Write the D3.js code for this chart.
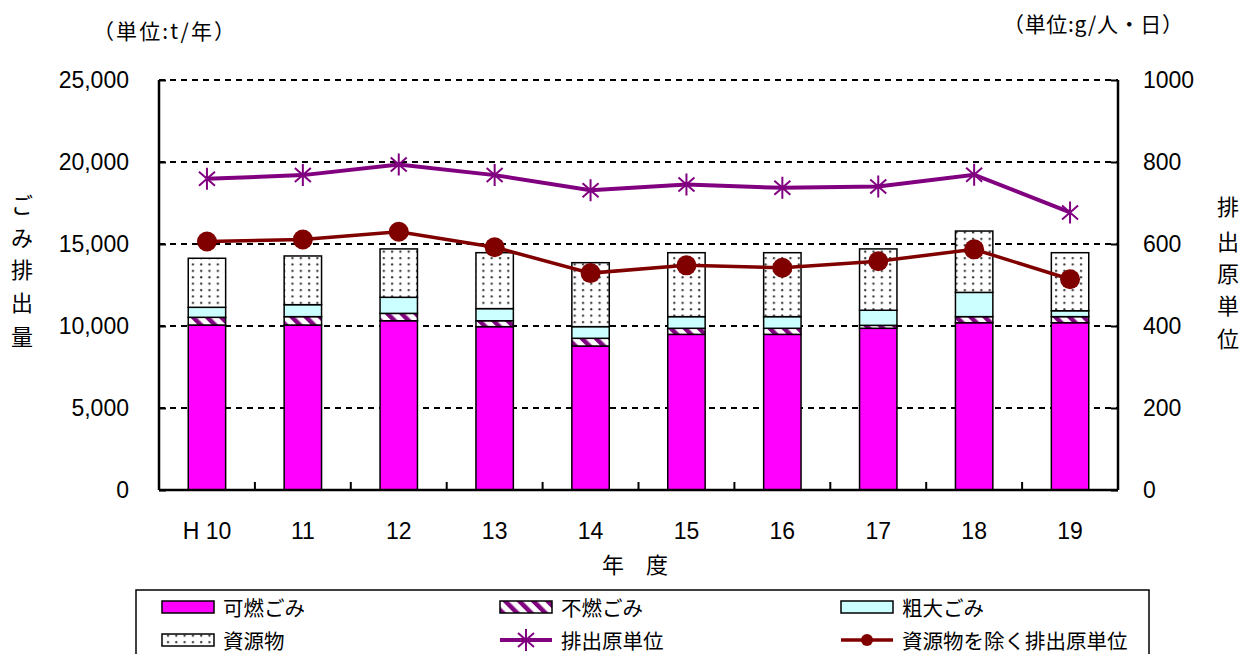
<!DOCTYPE html>
<html><head><meta charset="utf-8">
<script src="https://cdn.jsdelivr.net/npm/d3@7"></script>
<style>body{margin:0;background:#fff}</style>
</head><body><svg id="c" width="1242" height="654"></svg>
<script>
const categories = ["H 10","11","12","13","14","15","16","17","18","19"];
const kanen = [10060,10060,10320,9960,8780,9490,9490,9860,10200,10200];
const funen = [470,510,450,360,470,370,370,180,370,370];
const sodai = [610,730,980,740,710,710,710,920,1480,360];
const shigen = [2990,2970,2950,3410,3900,3900,3900,3740,3740,3540];
const haishutsu = [759,768,794,768,731,745,737,740,769,677];
const haishutsuExcl = [606,611,630,592,529,548,542,558,587,514];
const leftTicks = [0,5000,10000,15000,20000,25000];
const rightTicks = [0,200,400,600,800,1000];
const seriesNames = ["可燃ごみ","不燃ごみ","粗大ごみ","資源物"];
const lineNames = ["排出原単位","資源物を除く排出原単位"];

const svg = d3.select("#c");
const L = 159, R = 1118, T = 80, B = 490;
const NUM = "'Liberation Sans', Arial, sans-serif";
const JP = "'Noto Sans CJK JP', sans-serif";

const defs = svg.append("defs");
const hatch = defs.append("pattern").attr("id","hatch").attr("patternUnits","userSpaceOnUse")
  .attr("width",10).attr("height",10).attr("patternTransform","rotate(-45)");
hatch.append("rect").attr("width",10).attr("height",10).attr("fill","#fff");
hatch.append("rect").attr("width",4.5).attr("height",10).attr("fill","#800080");
const dots = defs.append("pattern").attr("id","dots").attr("patternUnits","userSpaceOnUse")
  .attr("width",8.3).attr("height",6.4);
dots.append("rect").attr("width",8.3).attr("height",6.4).attr("fill","#fff");
dots.append("circle").attr("cx",2).attr("cy",2).attr("r",1.1).attr("fill","#333");

const x = d3.scaleBand().domain(categories).range([L,R]).paddingInner(0.61).paddingOuter(0.305);
const yL = d3.scaleLinear().domain([0,25000]).range([B,T]);
const yR = d3.scaleLinear().domain([0,1000]).range([B,T]);

// gridlines
svg.append("g").selectAll("line").data(leftTicks.filter(d=>d>0)).join("line")
  .attr("x1",L).attr("x2",R).attr("y1",d=>yL(d)).attr("y2",d=>yL(d))
  .attr("stroke","#000").attr("stroke-width",2).attr("stroke-dasharray","6,5");

// stacked bars
const fills = ["#FF00FF","url(#hatch)","#CCFFFF","url(#dots)"];
const rows = categories.map((c,i)=>({cat:c,k:kanen[i],f:funen[i],s:sodai[i],r:shigen[i]}));
const stack = d3.stack().keys(["k","f","s","r"])(rows);
svg.append("g").selectAll("g").data(stack).join("g")
  .attr("fill",(d,i)=>fills[i])
  .selectAll("rect").data(d=>d).join("rect")
  .attr("x",d=>x(d.data.cat)).attr("width",x.bandwidth())
  .attr("y",d=>yL(d[1])).attr("height",d=>yL(d[0])-yL(d[1]))
  .attr("stroke","#000").attr("stroke-width",1.5);

// axes
const axL = svg.append("g").attr("transform",`translate(${L},0)`)
  .call(d3.axisLeft(yL).tickValues(leftTicks).tickSize(-7).tickPadding(30).tickFormat(d3.format(",")));
const axR = svg.append("g").attr("transform",`translate(${R},0)`)
  .call(d3.axisRight(yR).tickValues(rightTicks).tickSize(-7).tickPadding(25).tickFormat(d3.format("d")));
const axB = svg.append("g").attr("transform",`translate(0,${B})`)
  .call(d3.axisBottom(x).tickSize(0).tickPadding(33));
[axL,axR,axB].forEach(a=>{
  a.select(".domain").attr("stroke","#000").attr("stroke-width",2.5);
  a.selectAll(".tick line").attr("stroke","#000").attr("stroke-width",2);
  a.selectAll("text").attr("font-family",NUM).attr("font-size",23).attr("fill","#000");
});
axL.select(".domain").attr("d",`M0,${B}V${T}`);
axR.select(".domain").attr("d",`M0,${B}V${T}`);
axB.select(".domain").attr("d",`M${L},0H${R}`);
// category separator ticks
const step = x.step();
svg.append("g").selectAll("line").data(categories.slice(1)).join("line")
  .attr("x1",d=>x(d)-x.paddingInner()*step/2).attr("x2",d=>x(d)-x.paddingInner()*step/2)
  .attr("y1",B).attr("y2",B-8).attr("stroke","#000").attr("stroke-width",2);

// lines
const cx = c=>x(c)+x.bandwidth()/2;
const purple="#800080", dred="#800000";
const lineGen = d3.line().x(d=>cx(d[0])).y(d=>yR(d[1]));
svg.append("path").datum(categories.map((c,i)=>[c,haishutsu[i]]))
  .attr("d",lineGen).attr("fill","none").attr("stroke",purple).attr("stroke-width",4);
svg.append("path").datum(categories.map((c,i)=>[c,haishutsuExcl[i]]))
  .attr("d",lineGen).attr("fill","none").attr("stroke",dred).attr("stroke-width",3.5);
const star = "M0,-11V11M-8,-7L8,7M-8,7L8,-7";
svg.append("g").selectAll("path").data(categories.map((c,i)=>[c,haishutsu[i]])).join("path")
  .attr("transform",d=>`translate(${cx(d[0])},${yR(d[1])})`).attr("d",star)
  .attr("stroke",purple).attr("stroke-width",2).attr("fill","none");
svg.append("g").selectAll("circle").data(categories.map((c,i)=>[c,haishutsuExcl[i]])).join("circle")
  .attr("cx",d=>cx(d[0])).attr("cy",d=>yR(d[1])).attr("r",10).attr("fill",dred);

// titles
svg.append("text").attr("x",93).attr("y",39).attr("font-family",JP).attr("font-size",21)
  .attr("textLength",142).attr("lengthAdjust","spacing").text("（単位:t/年）");
svg.append("text").attr("x",1003).attr("y",32).attr("font-family",JP).attr("font-size",21)
  .attr("textLength",180).attr("lengthAdjust","spacing").text("（単位:g/人・日）");
const vt = (chars,xx,ys)=>svg.append("g").selectAll("text").data(chars).join("text")
  .attr("x",xx).attr("y",(d,i)=>ys[i]).attr("text-anchor","middle").attr("dominant-baseline","central")
  .attr("font-family",JP).attr("font-size",22).text(d=>d);
vt(["ご","み","排","出","量"],22,[203,236,268,301,335]);
vt(["排","出","原","単","位"],1228,[205,240,272,304,337]);
svg.append("text").attr("x",635).attr("y",573).attr("text-anchor","middle")
  .attr("font-family",JP).attr("font-size",22).text("年　度");

// legend
svg.append("rect").attr("x",136).attr("y",590).attr("width",1013).attr("height",80)
  .attr("fill","none").attr("stroke","#000").attr("stroke-width",1.5);
const lg = svg.append("g");
const cols = [162,500,841], rowsY = [607,640];
seriesNames.forEach((n,i)=>{
  const cxL = i<3?cols[i]:cols[0], ry = i<3?rowsY[0]:rowsY[1];
  lg.append("rect").attr("x",cxL).attr("y",ry-6).attr("width",52).attr("height",12)
    .attr("fill",fills[i]).attr("stroke","#000").attr("stroke-width",1.5);
  lg.append("text").attr("x",cxL+61).attr("y",ry).attr("dominant-baseline","central")
    .attr("font-family",JP).attr("font-size",20.5).text(n);
});
lineNames.forEach((n,i)=>{
  const cxL = cols[i+1], ry = rowsY[1];
  const col = i===0?purple:dred;
  lg.append("line").attr("x1",cxL).attr("x2",cxL+52).attr("y1",ry).attr("y2",ry)
    .attr("stroke",col).attr("stroke-width",i===0?4:3.5);
  if(i===0) lg.append("path").attr("transform",`translate(${cxL+26},${ry})`).attr("d",star)
    .attr("stroke",col).attr("stroke-width",2).attr("fill","none");
  else lg.append("circle").attr("cx",cxL+26).attr("cy",ry).attr("r",6).attr("fill",col);
  lg.append("text").attr("x",cxL+61).attr("y",ry).attr("dominant-baseline","central")
    .attr("font-family",JP).attr("font-size",20.5).text(n);
});
</script></body></html>
